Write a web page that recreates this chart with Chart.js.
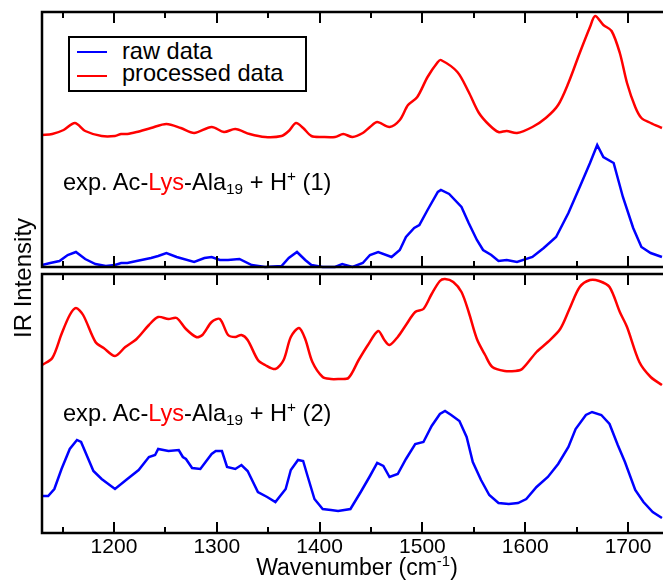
<!DOCTYPE html>
<html>
<head>
<meta charset="utf-8">
<script src="https://cdn.jsdelivr.net/npm/chart.js@4.4.1/dist/chart.umd.min.js"></script>
<style>
  body { margin: 0; background: #fff; }
  #wrap { position: relative; width: 663px; height: 582px; overflow: hidden; font-family: "Liberation Sans", Arial, sans-serif; color: #000; }
  #wrap canvas { position: absolute; left: 0; top: 0; }
  .txt { position: absolute; font-size: 23px; line-height: 23px; white-space: nowrap; }
  .txt.anot { font-size: 23.6px; }
  .txt sub, .txt sup { font-size: 0.65em; line-height: 0; }
  .txt sub { vertical-align: -0.25em; }
  .txt sup { vertical-align: 0.6em; }
  .lys { color: #ff0000; }
  #legend { position: absolute; left: 68px; top: 36px; width: 239px; height: 56px; box-sizing: border-box; border: 2px solid #000; background: #fff; }
  #legend .sw { position: absolute; left: 7px; width: 30px; height: 0; border-top: 2.5px solid; }
  #legend .lb { position: absolute; left: 52px; font-size: 23.6px; line-height: 23px; white-space: nowrap; }
  #ytitle { left: 23px; top: 278px; transform: translate(-50%, -50%) rotate(-90deg); font-size: 24px; line-height: 24px; }
</style>
</head>
<body>
<div id="wrap">
  <canvas id="grafico" width="663" height="582"></canvas>
  <div id="legend"></div>
  <div class="txt anot" style="left:63px; top:171px;">exp. Ac-<span class="lys">Lys</span>-Ala<sub>19</sub> + H<sup>+</sup> (1)</div>
  <div class="txt anot" style="left:63px; top:402px;">exp. Ac-<span class="lys">Lys</span>-Ala<sub>19</sub> + H<sup>+</sup> (2)</div>
  <div class="txt" id="ytitle">IR Intensity</div>
  <div class="txt" style="left:357px; top:556px; transform: translateX(-50%);">Wavenumber (cm<sup>-1</sup>)</div>
</div>
<script>
// Spectrum (1) - upper panel
const topRawWn = [1130, 1138, 1147, 1155, 1163, 1172, 1182, 1192, 1201, 1207, 1213, 1222, 1236, 1243, 1251, 1261, 1278, 1288, 1295, 1303, 1311, 1322, 1334, 1347, 1363, 1370, 1378, 1386, 1392, 1403, 1415, 1422, 1432, 1442, 1449, 1457, 1470, 1478, 1484, 1492, 1497, 1505, 1515, 1518, 1526, 1538, 1545, 1553, 1559, 1567, 1574, 1582, 1592, 1607, 1618, 1630, 1642, 1653, 1663, 1670, 1676, 1686, 1695, 1705, 1713, 1722, 1733];
const topRawInt = [2, 4, 6, 12, 15, 8, 3, 1, 2, 4, 4, 6, 9, 11, 14, 10, 5, 9, 10, 7, 7, 8, 2, 0, 1, 9, 15, 7, 2, 0, 0, 3, 0, 4, 12, 15, 10, 17, 30, 39, 42, 57, 75, 77, 73, 60, 44, 27, 17, 12, 6, 7, 5, 10, 19, 30, 54, 80, 104, 122, 110, 104, 70, 39, 20, 14, 10];

const topProcWn = [1130, 1140, 1151, 1162, 1172, 1188, 1201, 1207, 1213, 1222, 1236, 1251, 1265, 1278, 1295, 1307, 1318, 1332, 1347, 1363, 1370, 1377, 1384, 1392, 1403, 1415, 1423, 1432, 1442, 1449, 1456, 1468, 1478, 1486, 1495, 1505, 1515, 1518, 1534, 1545, 1555, 1565, 1574, 1582, 1592, 1607, 1620, 1632, 1642, 1653, 1663, 1668, 1676, 1684, 1692, 1699, 1707, 1713, 1722, 1733];
const topProcInt = [132, 133, 137, 144, 136, 131, 131, 133, 133, 135, 139, 143, 139, 134, 140, 135, 138, 133, 130, 131, 136, 144, 139, 131, 130, 130, 133, 130, 134, 140, 145, 140, 147, 162, 170, 190, 205, 207, 195, 175, 154, 142, 135, 136, 134, 140, 149, 162, 184, 214, 240, 251, 242, 236, 214, 184, 160, 149, 144, 139];

// Spectrum (2) - lower panel
const botRawWn = [1130, 1136, 1142, 1149, 1157, 1164, 1168, 1180, 1188, 1201, 1213, 1224, 1234, 1240, 1243, 1253, 1263, 1267, 1270, 1276, 1284, 1295, 1299, 1305, 1310, 1318, 1324, 1330, 1340, 1349, 1357, 1367, 1372, 1379, 1384, 1388, 1395, 1403, 1411, 1418, 1430, 1440, 1449, 1456, 1462, 1468, 1476, 1484, 1493, 1501, 1509, 1517, 1522, 1528, 1536, 1543, 1549, 1557, 1565, 1574, 1584, 1593, 1601, 1611, 1622, 1632, 1642, 1649, 1659, 1665, 1674, 1682, 1690, 1697, 1707, 1715, 1724, 1733];
const botRawInt = [37, 37, 44, 64, 84, 93, 91, 62, 54, 44, 54, 63, 76, 78, 84, 82, 83, 76, 74, 65, 64, 79, 82, 82, 66, 64, 68, 62, 41, 36, 31, 44, 63, 73, 72, 58, 34, 24, 23, 22, 24, 41, 57, 70, 67, 56, 59, 74, 89, 91, 107, 119, 122, 118, 112, 96, 71, 53, 38, 30, 29, 30, 34, 46, 56, 69, 86, 104, 118, 121, 118, 109, 88, 71, 43, 31, 21, 15];

const botProcWn = [1130, 1140, 1149, 1157, 1163, 1170, 1182, 1190, 1201, 1211, 1222, 1234, 1243, 1253, 1261, 1270, 1280, 1286, 1295, 1303, 1311, 1318, 1324, 1330, 1340, 1347, 1357, 1365, 1372, 1380, 1386, 1393, 1403, 1411, 1418, 1428, 1438, 1447, 1457, 1463, 1468, 1476, 1484, 1493, 1501, 1509, 1517, 1522, 1530, 1538, 1545, 1553, 1561, 1568, 1580, 1590, 1597, 1611, 1622, 1634, 1643, 1653, 1663, 1672, 1682, 1692, 1699, 1711, 1722, 1733];
const botProcInt = [168, 175, 199, 218, 225, 218, 191, 185, 177, 186, 194, 208, 216, 214, 215, 204, 196, 198, 211, 214, 198, 196, 198, 193, 173, 168, 164, 173, 196, 205, 194, 171, 156, 154, 154, 155, 173, 188, 202, 193, 188, 196, 208, 221, 224, 239, 252, 254, 251, 241, 221, 194, 178, 166, 162, 162, 164, 181, 191, 204, 224, 246, 253, 252, 246, 221, 206, 171, 156, 148];

const xMin = 1130, xMax = 1734;
const xTickLabels = [1200, 1300, 1400, 1500, 1600, 1700];
const xTicksMinor = [1150, 1200, 1250, 1300, 1350, 1400, 1450, 1500, 1550, 1600, 1650, 1700];

// the two panels share one y scale, spectrum (1) is shifted up
const panelBas = { min: 0, max: 259 };
const panelTopo = { min: 266, max: 521 };

function pontos(wn, val, base) {
  return wn.map((w, i) => ({ x: w, y: val[i] + base }));
}

const molduraPlugin = {
  id: 'moldura',
  afterDatasetsDraw(chart) {
    const { ctx, scales: { x, y } } = chart;
    const esq = x.left;
    const dir = chart.width + 5;
    ctx.save();
    ctx.strokeStyle = '#000';
    [panelTopo, panelBas].forEach(p => {
      const yTop = y.getPixelForValue(p.max);
      const yBot = y.getPixelForValue(p.min);
      ctx.lineWidth = 2.5;
      ctx.lineCap = 'square';
      ctx.beginPath();
      ctx.moveTo(dir, yTop);
      ctx.lineTo(esq, yTop);
      ctx.lineTo(esq, yBot);
      ctx.lineTo(dir, yBot);
      ctx.stroke();
      // ticks para dentro
      ctx.lineCap = 'butt';
      ctx.lineWidth = 2;
      xTicksMinor.forEach(v => {
        const px = Math.round(x.getPixelForValue(v));
        const len = v % 100 === 0 ? 11 : 6;
        ctx.beginPath();
        ctx.moveTo(px, yTop);
        ctx.lineTo(px, yTop + len);
        ctx.moveTo(px, yBot);
        ctx.lineTo(px, yBot - len);
        ctx.stroke();
      });
    });
    ctx.restore();
  }
};

const ctx = document.getElementById('grafico').getContext('2d');

const grafico = new Chart(ctx, {
  type: 'line',
  data: {
    datasets: [{
      label: 'raw data',
      data: pontos(topRawWn, topRawInt, panelTopo.min),
      borderColor: '#0000ff',
      tension: 0
    },
    {
      label: 'processed data',
      data: pontos(topProcWn, topProcInt, panelTopo.min),
      borderColor: '#ff0000',
      tension: 0.3
    },
    {
      label: 'raw data (2)',
      data: pontos(botRawWn, botRawInt, panelBas.min),
      borderColor: '#0000ff',
      tension: 0
    },
    {
      label: 'processed data (2)',
      data: pontos(botProcWn, botProcInt, panelBas.min),
      borderColor: '#ff0000',
      tension: 0.3
    }]
  },
  options: {
    responsive: false,
    animation: false,
    devicePixelRatio: 1,
    elements: {
      point: { radius: 0 },
      line: { borderWidth: 2.5, fill: false }
    },
    layout: {
      padding: { left: 42, top: 12, right: 0, bottom: 0 }
    },
    plugins: {
      legend: { display: false },
      title: { display: false },
      tooltip: { enabled: false }
    },
    scales: {
      x: {
        type: 'linear',
        min: xMin,
        max: xMax,
        grid: { display: false, drawTicks: false },
        border: { display: false },
        afterBuildTicks(scale) {
          scale.ticks = xTickLabels.map(v => ({ value: v }));
        },
        ticks: {
          maxRotation: 0,
          autoSkip: false,
          color: '#000',
          padding: 2,
          font: { family: 'Liberation Sans', size: 21 },
          callback: v => String(v)
        },
        afterFit(scale) { scale.height = 49; }
      },
      y: {
        display: false,
        min: panelBas.min,
        max: panelTopo.max
      }
    }
  },
  plugins: [molduraPlugin]
});

// legenda em HTML a partir dos dois primeiros datasets
const legenda = document.getElementById('legend');
grafico.data.datasets.slice(0, 2).forEach((ds, i) => {
  const linha = document.createElement('div');
  linha.className = 'sw';
  linha.style.borderTopColor = ds.borderColor;
  linha.style.top = (13 + i * 24) + 'px';
  const texto = document.createElement('div');
  texto.className = 'lb';
  texto.style.top = (2 + i * 22) + 'px';
  texto.textContent = ds.label;
  legenda.appendChild(linha);
  legenda.appendChild(texto);
});
</script>
</body>
</html>
